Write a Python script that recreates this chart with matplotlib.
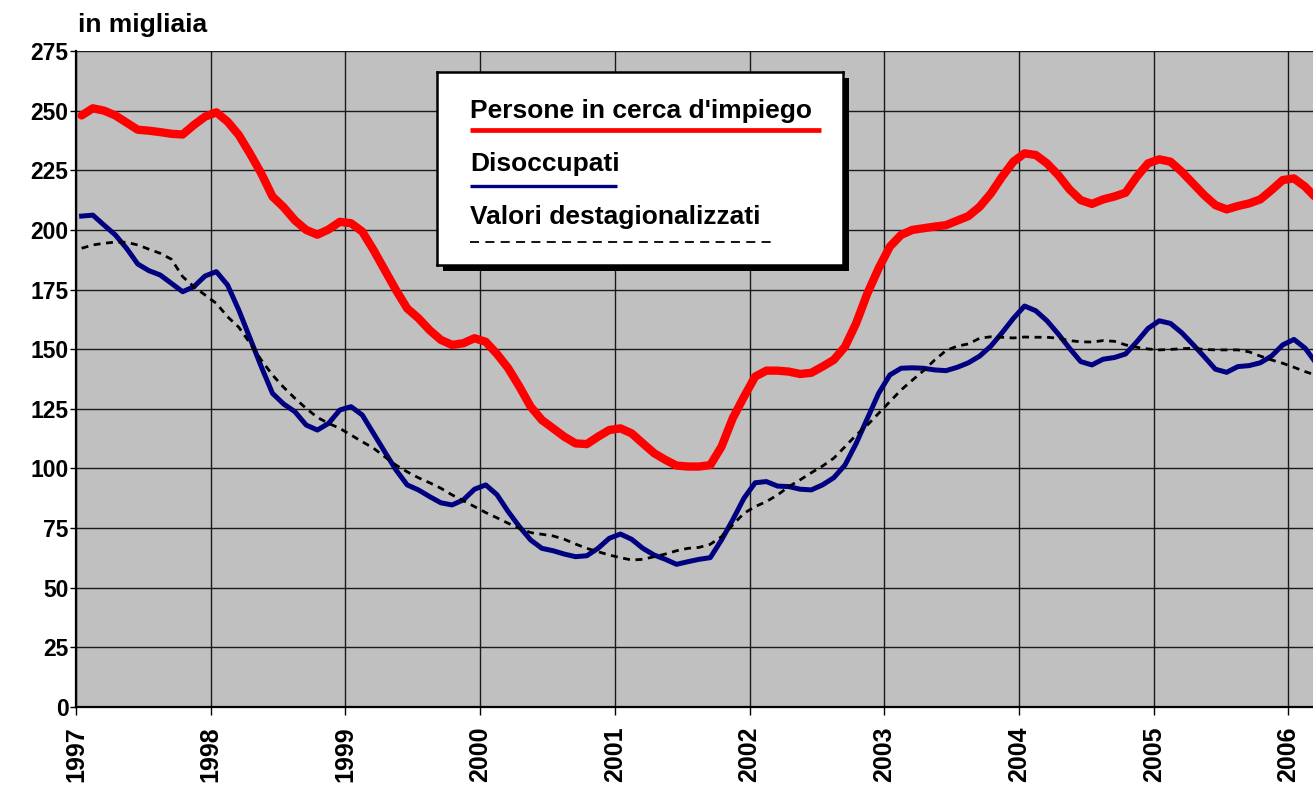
import numpy as np
import matplotlib
matplotlib.use('Agg')
import matplotlib.pyplot as plt
from matplotlib.patches import Rectangle

plt.rcParams['font.family'] = ['Liberation Sans', 'DejaVu Sans']
plt.rcParams['font.weight'] = 'bold'

# monthly values, Jan 1997 - Mar 2006 (thousands)
persone = [248, 251, 250, 248, 245, 242, 241.6, 241, 240.3, 240, 244, 247.5, 249.3, 245.4, 239.8, 232, 223.7, 214, 209.5,
           204, 200, 198, 200.2, 203.4, 202.8, 199.3, 191.6, 183.2, 174.8, 167.1, 163, 158, 153.9, 151.8, 152.5, 154.6, 153.1, 148,
           142, 134.3, 125.9, 120.3, 116.8, 113.3, 110.5, 110.2, 113.3, 116.1, 116.8, 114.7, 110.5, 106.4, 103.6, 101.2, 100.8, 100.8, 101.4,
           109.1, 121, 130, 138.5, 141, 141, 140.6, 139.6, 140.1, 142.7, 145.5, 151, 160.9, 173.4, 183.9, 193, 197.9, 200,
           200.7, 201.4, 202, 203.9, 205.8, 209.7, 215.3, 222.3, 228.6, 232.1, 231.4, 227.9, 223, 217, 212.5, 210.9, 212.8, 214,
           215.6, 222.3, 227.9, 229.6, 228.6, 224.4, 219.5, 214.6, 210.4, 208.6, 210, 211.1, 212.8, 216.7, 220.9, 221.6, 218.1, 213.2]
disoccupati = [205.8, 206.2, 202, 197.9, 192.3, 185.7, 182.9, 181.1, 177.6, 174.1, 176.2, 180.7, 182.5, 176.9, 166.4, 154.6, 142.7, 131.5, 127,
               123.8, 118.2, 116.1, 118.9, 124.5, 125.9, 122.4, 114.7, 107, 99.4, 93.1, 91, 88.2, 85.6, 84.7, 86.8, 91.3, 93.1, 89,
               81.9, 75.6, 70, 66.5, 65.5, 64.1, 63, 63.4, 66.5, 70.7, 72.5, 70.3, 66.5, 63.7, 61.9, 59.8, 60.9, 61.9, 62.6,
               70, 78.4, 87.5, 94, 94.5, 92.6, 92.4, 91.3, 91, 93.1, 96.1, 101.4, 110.5, 121, 131.5, 139.2, 142, 142.2,
               142, 141.3, 141, 142.4, 144.3, 147.1, 151.3, 156.9, 162.9, 168.1, 166.1, 161.9, 156.4, 150.4, 144.8, 143.4, 145.8, 146.5,
               148, 153.1, 158.7, 161.9, 160.8, 156.9, 152, 146.9, 141.6, 140.3, 142.7, 143.1, 144.3, 147.1, 151.8, 154.1, 150.4, 144]
destag = [192.3, 193.7, 194.4, 194.9, 194.8, 193.7, 191.9, 190.2, 187.7, 180.4, 176.2, 172.7, 169.2, 163.6, 159.2, 152.5, 145.5, 139.2, 134,
          129.4, 125.2, 121.4, 118.9, 116.8, 114, 111.2, 108.5, 104.9, 101.4, 98.6, 96.1, 94, 91.7, 88.9, 86.5, 84, 81.5, 79.3,
          77, 74.9, 73.1, 72.4, 71.7, 70.3, 68.3, 66.5, 65.1, 63.7, 62.6, 61.6, 61.9, 63, 64.1, 65.5, 66.5, 66.9, 68.2,
          71.4, 76.3, 81.2, 84, 86.1, 88.9, 92.4, 95.2, 98.2, 101, 104.3, 109.1, 114, 118.2, 123.1, 128, 132.9, 137,
          141, 145.5, 149.4, 151.3, 152.2, 154.6, 155.2, 155, 154.7, 155.1, 155, 155, 154.6, 153.6, 153.1, 153, 153.6, 153.3,
          151.8, 150.8, 150.1, 149.7, 149.9, 150.2, 150.4, 149.9, 149.7, 149.7, 149.7, 148.9, 147.1, 145.5, 144.1, 142.4, 140.6, 139]
years = list(range(1997, 2007))
yticks = list(range(0, 276, 25))

# month centres in decimal years
x = 1997 + (np.arange(len(persone)) + 0.5) / 12

fig = plt.figure(figsize=(13.13, 7.85), dpi=100)
ax = fig.add_axes([0.0579, 0.0994, 0.9421, 0.8356])
ax.set_facecolor('#C0C0C0')
ax.set_zorder(0)

ax.plot(x, persone, color='#FF0000', lw=6.0, solid_joinstyle='round', solid_capstyle='round', zorder=3)
ax.plot(x, disoccupati, color='#000080', lw=3.6, solid_joinstyle='round', zorder=3)
ax.plot(x, destag, color='black', lw=2.0, dashes=(2.5, 2.0), zorder=4)

ax.set_xlim(1997, 2006.183)
ax.set_ylim(0, 275)
ax.set_xticks(years)
ax.set_xticklabels([str(y) for y in years], rotation=90, fontsize=18, fontweight='bold')
ax.set_yticks(yticks)
ax.set_yticklabels([str(v) for v in yticks], fontsize=16.5, fontweight='bold')
ax.tick_params(axis='x', direction='out', length=6, width=1, pad=8)
ax.tick_params(axis='y', direction='out', length=4.5, width=1, pad=1)
ax.grid(True, color='#1a1a1a', lw=1.0, zorder=1)
ax.set_axisbelow(True)
for side in ['top', 'right']:
    ax.spines[side].set_visible(False)
ax.spines['left'].set_linewidth(1.6)
ax.spines['bottom'].set_linewidth(1.6)

fig.text(0.0594, 0.968, 'in migliaia', fontsize=19, fontweight='bold', ha='left', va='center')

# legend box with shadow
lx, ly, lw_, lh = 0.3328, 0.6624, 0.3092, 0.2459
shadow = Rectangle((lx + 0.0046, ly - 0.0076), lw_, lh, transform=fig.transFigure,
                   facecolor='black', edgecolor='none', zorder=1)
fig.add_artist(shadow)
leg = fig.add_axes([lx, ly, lw_, lh])
leg.set_zorder(2)
leg.set_facecolor('white')
leg.set_xlim(0, 1)
leg.set_ylim(0, 1)
leg.set_xticks([])
leg.set_yticks([])
for s in leg.spines.values():
    s.set_linewidth(1.8)
    s.set_color('black')

leg.text(0.0813, 0.762, "Persone in cerca d'impiego", fontsize=19, fontweight='bold', va='baseline')
leg.plot([0.0813, 0.945], [0.699, 0.699], color='#FF0000', lw=3.4, solid_capstyle='butt')
leg.text(0.0813, 0.489, 'Disoccupati', fontsize=19, fontweight='bold', va='baseline')
leg.plot([0.0813, 0.443], [0.409, 0.409], color='#000080', lw=2.4, solid_capstyle='butt')
leg.text(0.0813, 0.212, 'Valori destagionalizzati', fontsize=19, fontweight='bold', va='baseline')
leg.plot([0.0813, 0.824], [0.118, 0.118], color='black', lw=1.3, dashes=(5, 3.5))

fig.savefig('out.png', dpi=100)
